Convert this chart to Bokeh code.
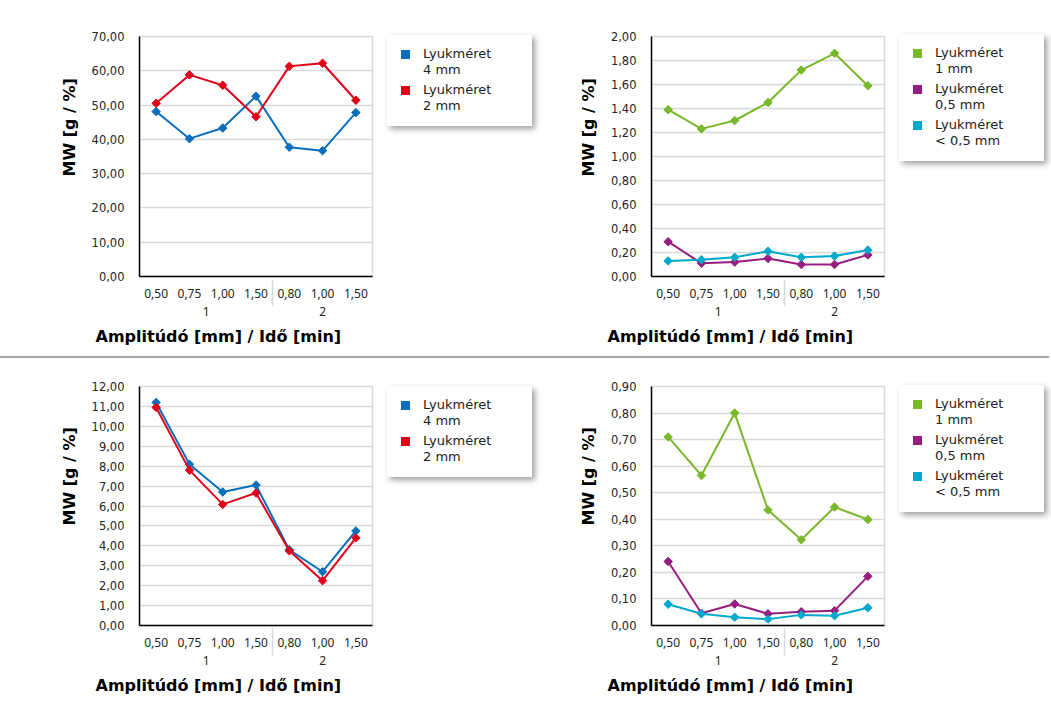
import html as _html
from bokeh.plotting import figure
from bokeh.models import FactorRange, Range1d, FixedTicker, CustomJSTickFormatter, Div, Title
from bokeh.layouts import column, row
from bokeh.embed import file_html
from bokeh.resources import INLINE

# ---------------- data ----------------
groups = ["1", "1", "1", "1", "2", "2", "2"]
amplitudes = ["0,50", "0,75", "1,00", "1,50", "0,80", "1,00", "1,50"]

# top-left panel
p1_4mm = [48.1, 40.2, 43.3, 52.6, 37.7, 36.7, 47.8]
p1_2mm = [50.5, 58.8, 55.8, 46.6, 61.3, 62.2, 51.4]
# top-right panel
p2_1mm = [1.39, 1.23, 1.30, 1.45, 1.72, 1.86, 1.59]
p2_05mm = [0.29, 0.11, 0.12, 0.15, 0.10, 0.10, 0.18]
p2_lt05mm = [0.13, 0.14, 0.16, 0.21, 0.16, 0.17, 0.22]
# bottom-left panel
p3_4mm = [11.20, 8.10, 6.70, 7.05, 3.80, 2.70, 4.75]
p3_2mm = [10.95, 7.80, 6.08, 6.65, 3.75, 2.25, 4.40]
# bottom-right panel
p4_1mm = [0.710, 0.565, 0.800, 0.435, 0.323, 0.446, 0.399]
p4_05mm = [0.241, 0.046, 0.081, 0.044, 0.052, 0.056, 0.185]
p4_lt05mm = [0.080, 0.044, 0.031, 0.024, 0.040, 0.037, 0.067]

labels_2 = ["Lyukméret\n4 mm", "Lyukméret\n2 mm"]
labels_3 = ["Lyukméret\n1 mm", "Lyukméret\n0,5 mm", "Lyukméret\n< 0,5 mm"]

y_ticks_1 = [0, 10, 20, 30, 40, 50, 60, 70]
y_ticks_2 = [0, 0.2, 0.4, 0.6, 0.8, 1.0, 1.2, 1.4, 1.6, 1.8, 2.0]
y_ticks_3 = [0, 1, 2, 3, 4, 5, 6, 7, 8, 9, 10, 11, 12]
y_ticks_4 = [0, 0.1, 0.2, 0.3, 0.4, 0.5, 0.6, 0.7, 0.8, 0.9]

y_title = "MW [g / %]"
x_title = "Amplitúdó [mm] / Idő [min]"

BLUE, RED = "#0a6ebd", "#e2001a"
GREEN, PURPLE, CYAN = "#78b82a", "#951e80", "#00a9cb"

factors = list(zip(groups, amplitudes))


def make_panel(series, colors, ticks, width, height, mb_left, mb_right,
               mb_top, mb_bottom):
    p = figure(x_range=FactorRange(*factors, range_padding=0, factor_padding=0,
                                   group_padding=0, subgroup_padding=0),
               y_range=Range1d(ticks[0], ticks[-1]),
               width=width, height=height, output_backend="svg",
               toolbar_location=None, min_border_left=mb_left,
               min_border_right=mb_right, min_border_top=mb_top,
               min_border_bottom=mb_bottom)
    p.background_fill_color = "white"
    p.border_fill_color = "white"
    p.outline_line_color = "#d9d9d9"
    p.outline_line_width = 1.5

    p.xgrid.visible = False
    p.ygrid.ticker = FixedTicker(ticks=ticks, minor_ticks=[])
    p.ygrid.grid_line_color = "#d9d9d9"
    p.ygrid.grid_line_width = 1.5

    p.yaxis.ticker = FixedTicker(ticks=ticks, minor_ticks=[])
    p.yaxis.formatter = CustomJSTickFormatter(
        code="return tick.toFixed(2).replace('.', ',');")
    p.yaxis.axis_line_color = "black"
    p.yaxis.axis_line_width = 1.5
    p.yaxis.major_tick_line_color = None
    p.yaxis.minor_tick_line_color = None
    p.yaxis.major_label_standoff = 9
    p.yaxis.major_label_text_font = "DejaVu Sans"
    p.yaxis.major_label_text_font_size = "11.5px"
    p.yaxis.major_label_text_color = "#262626"

    p.xaxis.axis_line_color = "black"
    p.xaxis.axis_line_width = 1.5
    p.xaxis.major_tick_line_color = None
    p.xaxis.minor_tick_line_color = None
    p.xaxis.major_label_standoff = 6
    p.xaxis.major_label_text_font = "Noto Sans"
    p.xaxis.major_label_text_font_size = "12px"
    p.xaxis.major_label_text_color = "#262626"
    p.xaxis.group_text_font = "Noto Sans"
    p.xaxis.group_text_font_size = "12px"
    p.xaxis.group_text_color = "#262626"
    p.xaxis.group_text_font_style = "normal"
    p.xaxis.separator_line_color = "#d9d9d9"
    p.xaxis.separator_line_width = 1.5

    # axis titles, placed like the reference (shifted off the frame centre)
    xt = Title(text=x_title, align="left", offset=-44, standoff=12,
               text_font="DejaVu Sans", text_font_style="bold",
               text_font_size="16px", text_color="black")
    yt = Title(text=y_title, align="left", offset=100, standoff=20,
               text_font="DejaVu Sans", text_font_style="bold",
               text_font_size="16px", text_color="black")
    p.add_layout(xt, "below")
    p.add_layout(yt, "left")

    for vals, c in zip(series, colors):
        p.line(x=factors, y=vals, line_color=c, line_width=2, line_join="round")
        p.scatter(x=factors, y=vals, marker="square", angle=0.785, size=6,
                  fill_color=c, line_color=c)
    return p


def legend_div(names, colors, width, height, box_top, box_h):
    parts = []
    for i, (n, c) in enumerate(zip(names, colors)):
        top = 11 + 36 * i
        first, second = (_html.escape(s) for s in n.split("\n"))
        parts.append(
            f'<div style="position:absolute;left:14px;top:{top + 4}px;width:9px;'
            f'height:9px;background:{c};"></div>'
            f'<div style="position:absolute;left:36px;top:{top}px;line-height:16px;'
            f'white-space:nowrap;">{first}<br>{second}</div>')
    content = "".join(parts)
    text = (f'<div style="position:relative;width:{width}px;height:{height}px;">'
            f'<div style="position:absolute;left:0px;top:{box_top}px;width:145px;'
            f'height:{box_h}px;background:#ffffff;'
            f'box-shadow:3px 3px 6px rgba(0,0,0,0.38);'
            f"font-family:'DejaVu Sans';font-size:13px;color:#222222;\">"
            f'{content}</div></div>')
    return Div(text=text, width=width, height=height, margin=(0, 0, 0, 0))


p1 = make_panel([p1_4mm, p1_2mm], [BLUE, RED], y_ticks_1, 387, 356, 139, 15, 36, 80)
p2 = make_panel([p2_1mm, p2_05mm, p2_lt05mm], [GREEN, PURPLE, CYAN], y_ticks_2,
                348, 356, 100, 15, 36, 80)
p3 = make_panel([p3_4mm, p3_2mm], [BLUE, RED], y_ticks_3, 387, 342, 139, 15, 28, 74)
p4 = make_panel([p4_1mm, p4_05mm, p4_lt05mm], [GREEN, PURPLE, CYAN], y_ticks_4,
                348, 342, 100, 15, 28, 74)

l1 = legend_div(labels_2, [BLUE, RED], 164, 356, 35, 91)
l2 = legend_div(labels_3, [GREEN, PURPLE, CYAN], 150, 356, 34, 127)
l3 = legend_div(labels_2, [BLUE, RED], 164, 342, 28, 91)
l4 = legend_div(labels_3, [GREEN, PURPLE, CYAN], 150, 342, 27, 127)

sep = Div(text="", width=1049, height=2, margin=(0, 0, 0, 0),
          styles={"background-color": "#aaa49f"})

layout = column(row(p1, l1, p2, l2), sep, row(p3, l3, p4, l4))

with open("out.html", "w") as f:
    f.write(file_html(layout, INLINE))
